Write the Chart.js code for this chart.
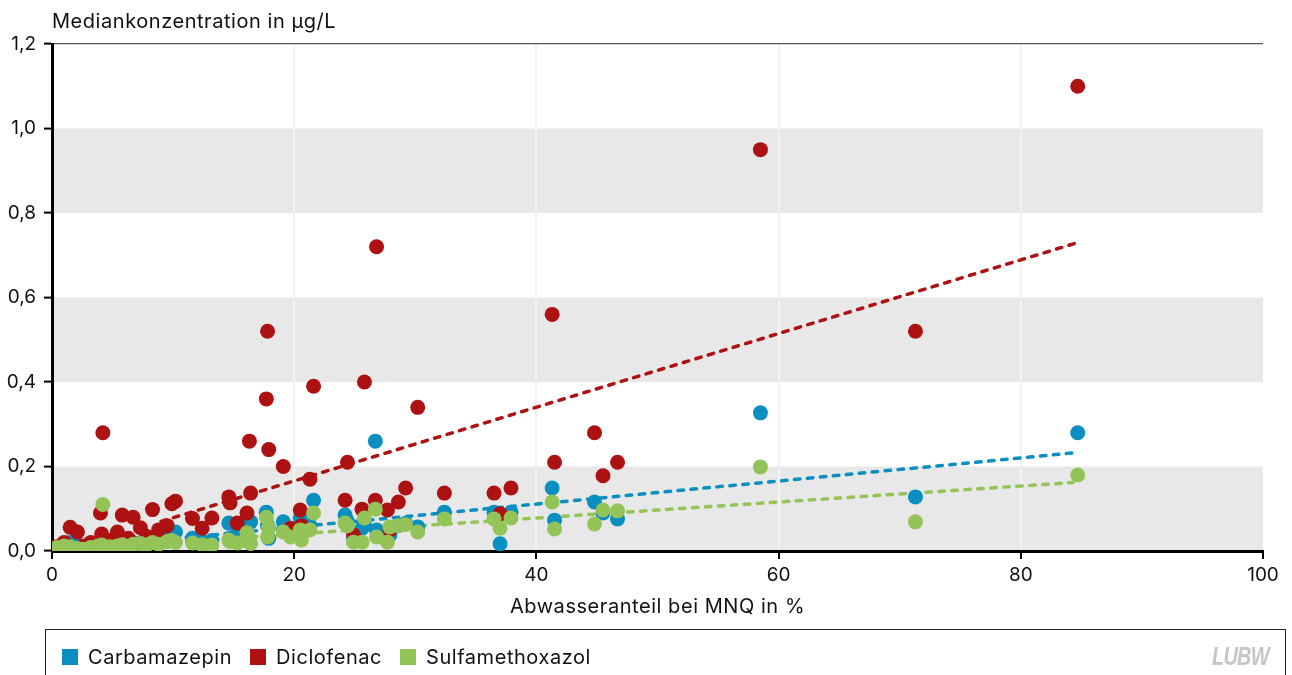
<!DOCTYPE html>
<html lang="de">
<head>
<meta charset="utf-8">
<title>Mediankonzentration und Abwasseranteil</title>
<script src="https://cdn.jsdelivr.net/npm/chart.js@4.4.1/dist/chart.umd.min.js"></script>
<style>
  html, body { margin: 0; padding: 0; background: #fff; }
  #wrap { position: relative; width: 1292px; height: 675px; overflow: hidden; font-family: "Inter", "Open Sans", sans-serif; }
  #chart { position: absolute; left: 0; top: 0; }
  #legend { position: absolute; left: 45px; top: 629px; width: 1241px; height: 60px; box-sizing: border-box;
            border: 1.5px solid #222; display: flex; align-items: flex-start; padding: 19px 0 0 16px; }
  .item { display: flex; align-items: center; height: 16px; margin-right: 18px; font-size: 20px; letter-spacing: 0.55px; color: #111; }
  .swatch { width: 16px; height: 16px; margin-right: 10px; }
  #logo { position: absolute; left: 1212px; top: 642px; font: italic 700 25px "Liberation Sans", Arial, sans-serif;
          color: #c6c6c6; transform: scaleX(0.8); transform-origin: left top; letter-spacing: -1px; }
</style>
</head>
<body>
<div id="wrap">
  <canvas id="chart" width="1292" height="675"></canvas>
  <div id="legend"></div>
  <div id="logo">LUBW</div>
</div>
<script>
// Abwasseranteil bei MNQ (%) je Messstelle
const abwasseranteil = [
  0.4, 1.0, 1.5, 2.1, 2.6, 3.2, 3.8, 4.0, 4.1, 4.2,
  4.8, 5.4, 5.8, 6.3, 6.7, 7.3, 7.8, 8.3, 8.8, 9.5,
  9.9, 10.2, 11.6, 12.4, 13.2, 14.6, 14.7, 15.3, 16.1, 16.3,
  16.4, 17.7, 17.8, 17.9, 19.1, 19.7, 20.5, 20.6, 21.3, 21.6,
  24.2, 24.4, 24.9, 25.6, 25.8, 26.7, 26.8, 27.7, 27.9, 28.6,
  29.2, 30.2, 32.4, 36.5, 37.0, 37.9, 41.3, 41.5, 44.8, 45.5,
  46.7, 58.5, 71.3, 84.7
];

// Mediankonzentrationen in µg/L
const carbamazepin = [
  0.008, 0.010, 0.020, 0.015, 0.008, 0.012, 0.010, 0.015, 0.012, 0.020,
  0.018, 0.020, 0.022, 0.015, 0.020, 0.018, 0.025, 0.028, 0.022, 0.035,
  0.030, 0.045, 0.030, 0.022, 0.025, 0.066, 0.030, 0.040, 0.075, 0.021,
  0.069, 0.092, 0.060, 0.030, 0.069, 0.040, 0.078, 0.050, 0.060, 0.120,
  0.085, 0.070, 0.030, 0.054, 0.060, 0.260, 0.050, 0.040, 0.038, 0.060,
  0.065, 0.057, 0.092, 0.092, 0.017, 0.092, 0.149, 0.073, 0.116, 0.090,
  0.076, 0.327, 0.128, 0.280
];
const diclofenac = [
  0.010, 0.020, 0.056, 0.045, 0.012, 0.020, 0.018, 0.090, 0.040, 0.280,
  0.025, 0.045, 0.085, 0.030, 0.080, 0.055, 0.035, 0.098, 0.050, 0.060,
  0.112, 0.118, 0.077, 0.054, 0.078, 0.128, 0.114, 0.066, 0.090, 0.260,
  0.137, 0.360, 0.520, 0.240, 0.200, 0.054, 0.097, 0.060, 0.170, 0.390,
  0.120, 0.210, 0.038, 0.099, 0.400, 0.120, 0.720, 0.097, 0.050, 0.116,
  0.149, 0.340, 0.137, 0.137, 0.088, 0.149, 0.560, 0.210, 0.280, 0.178,
  0.210, 0.950, 0.520, 1.100
];
const sulfamethoxazol = [
  0.008, 0.012, 0.010, 0.006, 0.004, 0.008, 0.012, 0.010, 0.014, 0.110,
  0.010, 0.012, 0.015, 0.010, 0.016, 0.018, 0.014, 0.020, 0.016, 0.022,
  0.025, 0.020, 0.019, 0.015, 0.014, 0.026, 0.022, 0.019, 0.043, 0.030,
  0.018, 0.080, 0.033, 0.055, 0.045, 0.033, 0.050, 0.026, 0.050, 0.090,
  0.066, 0.060, 0.021, 0.021, 0.078, 0.099, 0.033, 0.021, 0.057, 0.060,
  0.062, 0.045, 0.076, 0.076, 0.054, 0.078, 0.116, 0.052, 0.064, 0.097,
  0.095, 0.199, 0.069, 0.180
];

// Lineare Trendlinien (Anfangs- und Endpunkt)
const trendCarbamazepinX = [0.4, 84.3];
const trendCarbamazepinY = [0.003, 0.232];
const trendDiclofenacX = [9.0, 84.7];
const trendDiclofenacY = [0.070, 0.730];
const trendSulfamethoxazolX = [0.4, 84.3];
const trendSulfamethoxazolY = [0.003, 0.162];

const seriesNames = ['Carbamazepin', 'Diclofenac', 'Sulfamethoxazol'];
const seriesColors = ['#0A8FC0', '#AE1111', '#94C358'];

const xTickValues = [0, 20, 40, 60, 80, 100];
const xTickLabels = ['0', '20', '40', '60', '80', '100'];
const yTickValues = [0, 0.2, 0.4, 0.6, 0.8, 1.0, 1.2];
const yTickLabels = ['0,0', '0,2', '0,4', '0,6', '0,8', '1,0', '1,2'];

const xTitle = 'Abwasseranteil bei MNQ in %';
const yTitle = 'Mediankonzentration in µg/L';

const FONT = '"Inter", "Open Sans", sans-serif';
const TEXT = '#111';

function points(xs, ys) {
  return xs.map((x, i) => ({ x: x, y: ys[i] }));
}

const seriesValues = [carbamazepin, diclofenac, sulfamethoxazol];
const trends = [
  [trendCarbamazepinX, trendCarbamazepinY],
  [trendDiclofenacX, trendDiclofenacY],
  [trendSulfamethoxazolX, trendSulfamethoxazolY]
];

const datasets = [];
seriesNames.forEach((name, i) => {
  datasets.push({
    label: name,
    data: points(abwasseranteil, seriesValues[i]),
    backgroundColor: seriesColors[i],
    borderWidth: 0,
    pointRadius: 7.5,
    pointHoverRadius: 7.5,
    order: 3 - i
  });
});
seriesNames.forEach((name, i) => {
  datasets.push({
    label: name + ' Trend',
    data: points(trends[i][0], trends[i][1]),
    showLine: true,
    borderColor: seriesColors[i],
    borderWidth: 3.5,
    borderDash: [5.5, 7.5],
    borderCapStyle: 'round',
    pointRadius: 0,
    fill: false,
    order: 10 - i
  });
});

// Graue Bänder hinter jedem zweiten Intervall der y-Achse
const bandPlugin = {
  id: 'bands',
  beforeDraw(chart) {
    const { ctx, chartArea: a, scales: { y } } = chart;
    ctx.save();
    ctx.fillStyle = '#E8E8E8';
    for (let i = 0; i + 1 < yTickValues.length; i += 2) {
      const top = y.getPixelForValue(yTickValues[i + 1]);
      const bottom = y.getPixelForValue(yTickValues[i]);
      ctx.fillRect(a.left, top, a.right - a.left, bottom - top);
    }
    ctx.restore();
  }
};

// Achsentitel: y-Titel über dem Diagramm, x-Titel unter den Ticks
const titlesPlugin = {
  id: 'axisTitles',
  afterDraw(chart) {
    const { ctx, chartArea: a } = chart;
    ctx.save();
    ctx.font = '20px ' + FONT;
    if ('letterSpacing' in ctx) ctx.letterSpacing = '0.55px';
    ctx.fillStyle = TEXT;
    ctx.textBaseline = 'middle';
    ctx.textAlign = 'left';
    ctx.fillText(yTitle, a.left, 22);
    ctx.textAlign = 'center';
    ctx.fillText(xTitle, (a.left + a.right) / 2, 607);
    ctx.restore();
  }
};

new Chart(document.getElementById('chart'), {
  type: 'scatter',
  data: { datasets: datasets },
  plugins: [bandPlugin, titlesPlugin],
  options: {
    responsive: false,
    animation: false,
    devicePixelRatio: 1,
    events: [],
    layout: { padding: { top: 44, right: 29, bottom: 52, left: 0 } },
    plugins: { legend: { display: false }, tooltip: { enabled: false }, title: { display: false } },
    scales: {
      x: {
        type: 'linear',
        min: 0,
        max: 100,
        afterBuildTicks: s => { s.ticks = xTickValues.map(v => ({ value: v })); },
        afterFit: s => { s.height = 72; },
        ticks: {
          callback: (v, i) => xTickLabels[i],
          font: { family: FONT, size: 19 },
          color: TEXT,
          padding: 5,
          maxRotation: 0,
          autoSkip: false
        },
        grid: {
          color: c => (c.tick && (c.tick.value === 0 || c.tick.value === 100)) ? 'rgba(0,0,0,0)' : '#F3F3F3',
          lineWidth: 2,
          tickColor: '#000',
          tickWidth: 2,
          tickLength: 8
        },
        border: { color: '#000', width: 3 },
        title: { display: false }
      },
      y: {
        type: 'linear',
        min: 0,
        max: 1.2,
        afterBuildTicks: s => { s.ticks = yTickValues.map(v => ({ value: v })); },
        afterFit: s => { s.width = 52; },
        ticks: {
          callback: (v, i) => yTickLabels[i],
          font: { family: FONT, size: 19 },
          color: TEXT,
          padding: 8,
          autoSkip: false
        },
        grid: {
          color: c => (c.tick && c.tick.value === 1.2) ? '#555' : 'rgba(0,0,0,0)',
          lineWidth: 1.2,
          tickColor: '#000',
          tickWidth: 2,
          tickLength: 8
        },
        border: { color: '#000', width: 3 }
      }
    }
  }
});

// Legende aus Namen und Farben der Reihen
const legend = document.getElementById('legend');
seriesNames.forEach((name, i) => {
  const item = document.createElement('div');
  item.className = 'item';
  const sw = document.createElement('span');
  sw.className = 'swatch';
  sw.style.background = seriesColors[i];
  const label = document.createElement('span');
  label.textContent = name;
  item.appendChild(sw);
  item.appendChild(label);
  legend.appendChild(item);
});
</script>
</body>
</html>
